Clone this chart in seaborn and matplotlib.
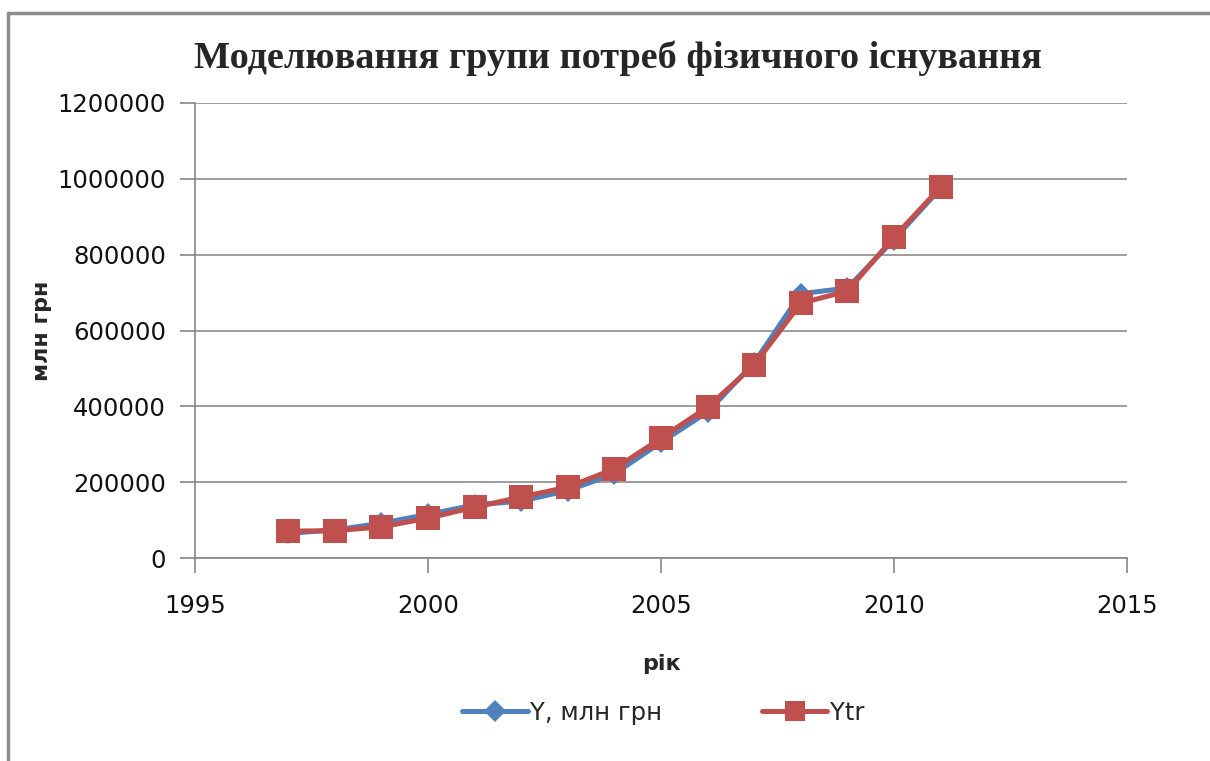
import numpy as np
import pandas as pd
import seaborn as sns
import matplotlib.pyplot as plt
from matplotlib.lines import Line2D

# data
years = [1997, 1998, 1999, 2000, 2001, 2002, 2003, 2004, 2005, 2006, 2007, 2008, 2009, 2010, 2011]
y_fact = [65000, 74000, 92000, 115000, 140000, 150000, 178000, 222000, 305000, 385000, 515000, 697000, 712000, 840000, 975000]
y_trend = [71000, 72000, 82000, 105000, 134000, 161000, 187000, 235000, 316000, 398000, 509000, 672000, 704000, 846000, 978000]

y_ticks = [0, 200000, 400000, 600000, 800000, 1000000, 1200000]
x_ticks = [1995, 2000, 2005, 2010, 2015]

df = pd.DataFrame({'рік': years, 'Y, млн грн': y_fact, 'Ytr': y_trend})

sns.set_style('white')
plt.rcParams['font.family'] = ['DejaVu Sans']

fig = plt.figure(figsize=(12.1, 7.61), dpi=100)
ax = fig.add_axes([195/1210, 1 - 558/761, (1127-195)/1210, (558-103)/761])

blue = '#4F81BD'
red = '#C0504D'
sns.lineplot(data=df, x='рік', y='Y, млн грн', ax=ax, color=blue, lw=3.6,
             marker='D', markersize=11, markeredgewidth=0, label='Y, млн грн')
sns.lineplot(data=df, x='рік', y='Ytr', ax=ax, color=red, lw=3.6,
             marker='s', markersize=17, markeredgewidth=0, label='Ytr')

ax.set_xlim(1995, 2015)
ax.set_ylim(0, 1200000)
ax.set_xticks(x_ticks)
ax.set_yticks(y_ticks)
ax.set_yticklabels([str(v) for v in y_ticks])
ax.tick_params(axis='both', labelsize=17.5, colors='#868686', labelcolor='#111111',
               length=11, width=1.2, direction='out', left=True, bottom=True)
ax.tick_params(axis='y', pad=10)
ax.tick_params(axis='x', pad=15)
ax.grid(axis='y', color='#8c8c8c', lw=1.2)
ax.set_axisbelow(True)
for s in ['top', 'right']:
    ax.spines[s].set_visible(False)
for s in ['left', 'bottom']:
    ax.spines[s].set_color('#868686')
    ax.spines[s].set_linewidth(1.2)

ax.set_xlabel('рік', fontsize=16, fontweight='bold', labelpad=26)
ax.set_ylabel('млн грн', fontsize=16, fontweight='bold', labelpad=4)

fig.text(0.511, 1 - 58/761, 'Моделювання групи потреб фізичного існування',
         ha='center', va='center', fontsize=27.5, fontweight='bold',
         family=['Liberation Serif', 'DejaVu Serif'])

ax.legend_.remove()
handles = [Line2D([], [], color=blue, lw=3.6, marker='D', markersize=11, markeredgewidth=0),
           Line2D([], [], color=red, lw=3.6, marker='s', markersize=15, markeredgewidth=0)]
fig.legend(handles, ['Y, млн грн', 'Ytr'], loc='center', bbox_to_anchor=(0.548, 1 - 713/761),
           ncol=2, frameon=False, fontsize=17.5, handlelength=2.7, columnspacing=4.1,
           handletextpad=0.1)

# outer chart frame (top and left edges only)
fig.add_artist(Line2D([8/1210, 1], [1 - 13/761, 1 - 13/761], color='#8c8c8c', lw=2.5,
                      transform=fig.transFigure))
fig.add_artist(Line2D([8/1210, 8/1210], [0, 1 - 13/761], color='#8c8c8c', lw=2.5,
                      transform=fig.transFigure))

fig.savefig('out.png', dpi=100, facecolor='white')
